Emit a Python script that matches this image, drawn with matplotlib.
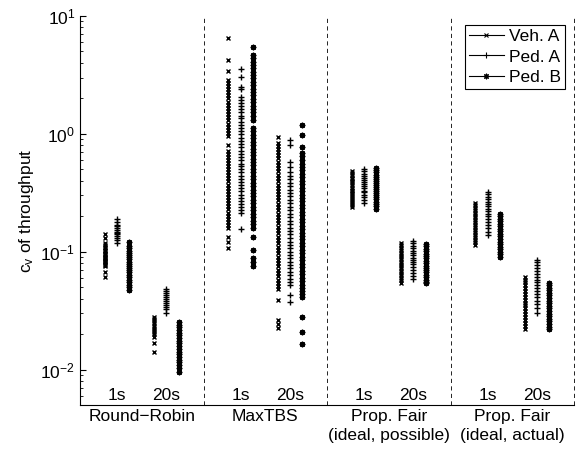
import matplotlib.pyplot as plt
from matplotlib.lines import Line2D
from matplotlib.transforms import blended_transform_factory

plt.rcParams['font.family'] = ['Liberation Sans', 'DejaVu Sans']
plt.rcParams['mathtext.fontset'] = 'custom'
plt.rcParams['mathtext.rm'] = 'Liberation Sans'
plt.rcParams['mathtext.default'] = 'regular'

schedulers = ["Round\u2212Robin", "MaxTBS", "Prop. Fair\n(ideal, possible)", "Prop. Fair\n(ideal, actual)"]
series = ["Veh. A", "Ped. A", "Ped. B"]
intervals = ["1s", "20s"]

# Round-Robin
rr_veh_a_1s = [0.142, 0.131, 0.119, 0.114, 0.110, 0.107, 0.104, 0.101, 0.098, 0.096, 0.093, 0.091,
               0.089, 0.087, 0.085, 0.083, 0.081, 0.079, 0.077, 0.075, 0.0677, 0.0615]
rr_ped_a_1s = [0.188, 0.178, 0.170, 0.164, 0.158, 0.153, 0.148, 0.144, 0.140, 0.136, 0.131, 0.125, 0.119]
rr_ped_b_1s = [0.120, 0.112, 0.107, 0.102, 0.098, 0.094, 0.090, 0.086, 0.082, 0.079, 0.076, 0.073,
               0.070, 0.067, 0.064, 0.061, 0.058, 0.055, 0.052, 0.050, 0.047]
rr_veh_a_20s = [0.028, 0.0268, 0.0257, 0.0246, 0.0236, 0.0226, 0.0217, 0.0208, 0.0199, 0.019, 0.0169, 0.014]
rr_ped_a_20s = [0.0486, 0.046, 0.0445, 0.043, 0.0415, 0.040, 0.0385, 0.037, 0.0355, 0.034, 0.0325, 0.0304]
rr_ped_b_20s = [0.0255, 0.024, 0.0228, 0.0216, 0.0205, 0.0195, 0.0185, 0.0176, 0.0167, 0.0158, 0.015,
                0.0142, 0.0135, 0.0128, 0.0121, 0.0115, 0.0109, 0.0103, 0.0096]

# MaxTBS
mt_veh_a_1s = [6.5, 4.24, 3.42, 2.87, 2.7, 2.55, 2.4, 2.25, 2.12, 2.0, 1.88, 1.77, 1.66, 1.56, 1.47,
               1.38, 1.30, 1.22, 1.15, 1.08, 1.02, 0.96, 0.80, 0.72, 0.68, 0.64, 0.60, 0.565, 0.53,
               0.50, 0.47, 0.445, 0.42, 0.395, 0.37, 0.35, 0.33, 0.31, 0.29, 0.275, 0.26, 0.245,
               0.23, 0.215, 0.20, 0.19, 0.178, 0.168, 0.16, 0.134, 0.121, 0.108]
mt_ped_a_1s = [3.55, 3.04, 2.5, 2.4, 2.06, 1.94, 1.83, 1.72, 1.62, 1.52, 1.43, 1.35, 1.27, 1.19, 1.12,
               1.05, 0.99, 0.93, 0.87, 0.82, 0.77, 0.72, 0.68, 0.64, 0.60, 0.56, 0.53, 0.50, 0.47,
               0.44, 0.415, 0.39, 0.365, 0.345, 0.325, 0.305, 0.285, 0.27, 0.255, 0.24, 0.227,
               0.214, 0.157]
mt_ped_b_1s = [5.46, 4.67, 4.4, 4.1, 3.85, 3.6, 3.35, 3.15, 2.95, 2.75, 2.58, 2.42, 2.27, 2.12, 1.98,
               1.85, 1.73, 1.62, 1.52, 1.42, 1.31, 1.12, 1.05, 0.98, 0.92, 0.86, 0.80, 0.75, 0.70,
               0.655, 0.615, 0.575, 0.54, 0.505, 0.47, 0.44, 0.41, 0.385, 0.36, 0.335, 0.315,
               0.295, 0.275, 0.257, 0.24, 0.225, 0.21, 0.196, 0.183, 0.171, 0.16, 0.134, 0.104,
               0.089, 0.082, 0.075]
mt_veh_a_20s = [0.94, 0.84, 0.79, 0.74, 0.70, 0.66, 0.62, 0.58, 0.545, 0.51, 0.48, 0.45, 0.42, 0.395,
                0.37, 0.35, 0.33, 0.31, 0.29, 0.272, 0.255, 0.24, 0.225, 0.21, 0.197, 0.185, 0.174,
                0.163, 0.153, 0.143, 0.134, 0.126, 0.118, 0.11, 0.103, 0.097, 0.091, 0.085, 0.08,
                0.075, 0.07, 0.066, 0.062, 0.058, 0.054, 0.051, 0.048, 0.039, 0.0265, 0.0245, 0.0227]
mt_ped_a_20s = [0.89, 0.81, 0.58, 0.525, 0.47, 0.44, 0.41, 0.385, 0.36, 0.335, 0.315, 0.295, 0.275,
                0.257, 0.24, 0.225, 0.21, 0.196, 0.183, 0.171, 0.16, 0.15, 0.14, 0.131, 0.122, 0.114,
                0.107, 0.1, 0.094, 0.088, 0.082, 0.077, 0.072, 0.067, 0.063, 0.059, 0.0555, 0.0526,
                0.043, 0.0377]
mt_ped_b_20s = [1.19, 0.98, 0.776, 0.69, 0.645, 0.60, 0.56, 0.525, 0.49, 0.46, 0.43, 0.40, 0.375,
                0.35, 0.327, 0.305, 0.285, 0.267, 0.25, 0.233, 0.218, 0.204, 0.19, 0.178, 0.166,
                0.155, 0.145, 0.136, 0.127, 0.119, 0.111, 0.104, 0.097, 0.091, 0.085, 0.079, 0.074,
                0.069, 0.065, 0.06, 0.056, 0.0525, 0.049, 0.046, 0.0435, 0.0416, 0.028, 0.021, 0.0165]

# Prop. Fair (ideal, possible)
pfp_veh_a_1s = [0.486, 0.465, 0.445, 0.425, 0.41, 0.395, 0.38, 0.365, 0.35, 0.337, 0.325, 0.313,
                0.301, 0.29, 0.279, 0.268, 0.258, 0.249, 0.24]
pfp_ped_a_1s = [0.505, 0.48, 0.46, 0.44, 0.42, 0.405, 0.39, 0.375, 0.36, 0.345, 0.33, 0.318, 0.305,
                0.29, 0.275, 0.26]
pfp_ped_b_1s = [0.515, 0.49, 0.47, 0.45, 0.43, 0.415, 0.40, 0.385, 0.37, 0.355, 0.34, 0.327, 0.314,
                0.302, 0.29, 0.278, 0.266, 0.255, 0.243, 0.232]
pfp_veh_a_20s = [0.119, 0.113, 0.108, 0.103, 0.098, 0.094, 0.09, 0.086, 0.082, 0.078, 0.075, 0.072,
                 0.069, 0.066, 0.063, 0.06, 0.0573, 0.0546]
pfp_ped_a_20s = [0.124, 0.118, 0.112, 0.107, 0.102, 0.097, 0.093, 0.089, 0.085, 0.081, 0.078, 0.074,
                 0.07, 0.066, 0.0625, 0.059]
pfp_ped_b_20s = [0.117, 0.111, 0.106, 0.101, 0.096, 0.092, 0.088, 0.084, 0.08, 0.076, 0.073, 0.07,
                 0.067, 0.064, 0.061, 0.058, 0.0558, 0.0537]

# Prop. Fair (ideal, actual)
pfa_veh_a_1s = [0.26, 0.248, 0.236, 0.225, 0.214, 0.204, 0.195, 0.186, 0.177, 0.169, 0.161, 0.153,
                0.146, 0.139, 0.132, 0.126, 0.12, 0.115]
pfa_ped_a_1s = [0.322, 0.306, 0.292, 0.279, 0.266, 0.254, 0.242, 0.231, 0.22, 0.21, 0.2, 0.19, 0.18,
                0.17, 0.158, 0.148, 0.139]
pfa_ped_b_1s = [0.21, 0.2, 0.19, 0.181, 0.172, 0.164, 0.156, 0.149, 0.142, 0.135, 0.128, 0.122,
                0.116, 0.11, 0.105, 0.1, 0.095, 0.091]
pfa_veh_a_20s = [0.0614, 0.058, 0.055, 0.052, 0.049, 0.0465, 0.044, 0.0415, 0.0392, 0.037, 0.035,
                 0.033, 0.0312, 0.0295, 0.0278, 0.0262, 0.0247, 0.0233, 0.0219]
pfa_ped_a_20s = [0.0856, 0.081, 0.0765, 0.0725, 0.0685, 0.065, 0.0615, 0.058, 0.055, 0.052, 0.049,
                 0.0462, 0.0435, 0.041, 0.0385, 0.036, 0.0335, 0.0304]
pfa_ped_b_20s = [0.0547, 0.052, 0.0494, 0.047, 0.0447, 0.0425, 0.0404, 0.0384, 0.0365, 0.0347, 0.033,
                 0.0314, 0.0298, 0.0283, 0.0269, 0.0256, 0.0243, 0.0231, 0.0219]

groups = [
    [[rr_veh_a_1s, rr_veh_a_20s], [rr_ped_a_1s, rr_ped_a_20s], [rr_ped_b_1s, rr_ped_b_20s]],
    [[mt_veh_a_1s, mt_veh_a_20s], [mt_ped_a_1s, mt_ped_a_20s], [mt_ped_b_1s, mt_ped_b_20s]],
    [[pfp_veh_a_1s, pfp_veh_a_20s], [pfp_ped_a_1s, pfp_ped_a_20s], [pfp_ped_b_1s, pfp_ped_b_20s]],
    [[pfa_veh_a_1s, pfa_veh_a_20s], [pfa_ped_a_1s, pfa_ped_a_20s], [pfa_ped_b_1s, pfa_ped_b_20s]],
]

markers = ['x', '+', (8, 2, 0)]
msizes = [3.5, 5, 4]

fig = plt.figure(figsize=(5.81, 4.57), dpi=100)
ax = fig.add_axes([0.1377, 0.1138, 0.8503, 0.8512])

for g, grp in enumerate(groups):
    for s, pair in enumerate(grp):
        for i, vals in enumerate(pair):
            x = g + 0.2 + 0.1 * s + 0.4 * i
            ax.plot([x] * len(vals), vals, linestyle='none', marker=markers[s],
                    markersize=msizes[s], markeredgewidth=1.0, color='k')

for g in range(1, 5):
    ax.axvline(g, color='k', linestyle=(0, (5, 4)), linewidth=0.6, clip_on=False)

fs = 12.5
trans = blended_transform_factory(ax.transData, ax.transAxes)
for g in range(4):
    for i, lab in enumerate(intervals):
        ax.text(g + 0.3 + 0.4 * i, 0.004, lab, transform=trans, ha='center', va='bottom', fontsize=fs)

ax.set_yscale('log')
ax.set_ylim(5e-3, 10)
ax.set_xlim(0, 4)
ax.set_xticks([0.5, 1.5, 2.5, 3.5])
ax.set_xticklabels(schedulers, fontsize=fs)
for lab in ax.get_xticklabels():
    lab.set_linespacing(1.3)
ax.tick_params(axis='x', length=0, pad=3)
ax.tick_params(axis='y', which='both', direction='in', labelsize=fs)
ax.tick_params(axis='y', which='major', length=4)
ax.tick_params(axis='y', which='minor', length=2.5)
ax.spines['top'].set_visible(False)
ax.spines['right'].set_visible(False)
ax.set_ylabel(r'c$_{v}$ of throughput', fontsize=fs, labelpad=3)

handles = [Line2D([], [], color='k', linewidth=0.8, marker=markers[s], markersize=msizes[s],
                  markeredgewidth=0.8) for s in range(3)]
leg = ax.legend(handles, series, loc='upper right', fontsize=fs, fancybox=False,
                edgecolor='k', framealpha=1, handlelength=2.0, labelspacing=0.3,
                borderaxespad=0.5, borderpad=0.25, handletextpad=0.3)
leg.get_frame().set_linewidth(0.8)

fig.savefig('out.png', dpi=100)
